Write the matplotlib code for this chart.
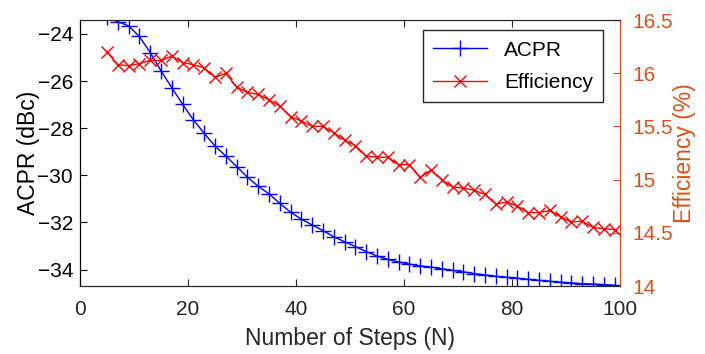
import matplotlib.pyplot as plt

plt.rcParams['font.family'] = ['Liberation Sans', 'DejaVu Sans']

# number of steps (odd values)
steps = list(range(5, 100, 2))

acpr = [-23.30, -23.48, -23.66, -24.11, -24.79, -25.57, -26.28, -26.99,
        -27.65, -28.22, -28.76, -29.18, -29.63, -30.08, -30.47, -30.79,
        -31.19, -31.57, -31.86, -32.11, -32.35, -32.61, -32.82, -33.03,
        -33.24, -33.43, -33.57, -33.68, -33.77, -33.85, -33.90, -33.97,
        -34.04, -34.10, -34.17, -34.23, -34.29, -34.33, -34.37, -34.42,
        -34.46, -34.50, -34.54, -34.57, -34.60, -34.62, -34.64, -34.67]

efficiency = [16.20, 16.08, 16.07, 16.09, 16.12, 16.12, 16.16, 16.10,
              16.08, 16.05, 15.96, 16.00, 15.87, 15.82, 15.80, 15.75,
              15.69, 15.59, 15.55, 15.50, 15.50, 15.44, 15.37, 15.32,
              15.22, 15.21, 15.21, 15.14, 15.14, 15.02, 15.09, 15.00,
              14.93, 14.92, 14.90, 14.86, 14.77, 14.79, 14.75, 14.69,
              14.69, 14.71, 14.65, 14.60, 14.61, 14.55, 14.54, 14.53]

orange = '#D95319'

fig = plt.figure(figsize=(7.05, 3.54), dpi=100)
ax = fig.add_axes([80 / 705, 68 / 354, 540 / 705, 266 / 354])
ax2 = ax.twinx()

l1, = ax.plot(steps, acpr, color='#0000FF', marker='+', markersize=11,
              markeredgewidth=1.0, linewidth=1.0, label='ACPR')
l2, = ax2.plot(steps, efficiency, color='#FF0000', marker='x', markersize=8,
               markeredgewidth=1.0, linewidth=1.0, label='Efficiency')

ax.set_xlim(0, 100)
ax.set_ylim(-34.70, -23.41)
ax2.set_ylim(14, 16.5)
ax.set_xticks([0, 20, 40, 60, 80, 100])
ax.set_yticks([-34, -32, -30, -28, -26, -24])
ax2.set_yticks([14, 14.5, 15, 15.5, 16, 16.5])
ax2.set_yticklabels(['14', '14.5', '15', '15.5', '16', '16.5'])

ax.set_xlabel('Number of Steps (N)', fontsize=16.5, color='#262626', labelpad=6)
ax.set_ylabel('ACPR (dBc)', fontsize=16.5, labelpad=-2)
ax2.set_ylabel('Efficiency (%)', fontsize=16.5, color=orange, labelpad=0)

ax.tick_params(axis='x', direction='in', top=True, labelsize=15,
               colors='#262626', length=5, pad=10)
ax.tick_params(axis='y', direction='in', labelsize=15, colors='black',
               length=5, pad=5)
ax2.tick_params(axis='y', direction='in', labelsize=15, colors=orange,
                length=5, pad=9)

for a in (ax, ax2):
    a.spines['top'].set_color('#262626')
    a.spines['bottom'].set_color('#262626')
    a.spines['left'].set_color('black')
    a.spines['right'].set_color(orange)

ax2.legend([l1, l2], ['ACPR', 'Efficiency'], loc='upper right',
           bbox_to_anchor=(0.969, 0.962), borderaxespad=0, fontsize=15,
           fancybox=False, edgecolor='#262626', framealpha=1,
           handlelength=2.6, borderpad=0.5, labelspacing=0.65)

fig.savefig('out.png', dpi=100)
